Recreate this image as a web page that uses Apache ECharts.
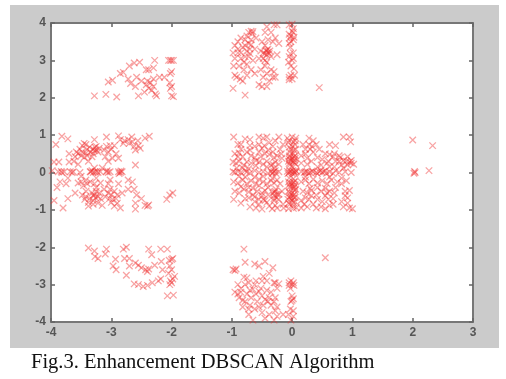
<!DOCTYPE html>
<html><head><meta charset="utf-8">
<style>html,body{margin:0;padding:0;background:#fff}#c{width:506px;height:379px;filter:blur(0.7px)}</style>
<script src="https://cdn.jsdelivr.net/npm/echarts@6/dist/echarts.min.js"></script>
</head><body><div id="c"></div>
<script>
const xTicks=[-4,-3,-2,-1,0,1,2,3];
const yTicks=[-4,-3,-2,-1,0,1,2,3,4];
const caption="Fig.3. Enhancement DBSCAN Algorithm";
const upperLeftArc=[[-3.28,2.05],[-3.09,2.09],[-2.91,2.02],[-3.05,2.42],[-2.98,2.47],[-2.85,2.65],[-2.8,2.68],[-2.72,2.5],[-2.68,2.38],[-2.7,2.85],[-2.58,2.55],[-2.5,2.45],[-2.6,2.3],[-2.62,2.93],[-2.53,2.95],[-2.42,2.75],[-2.38,2.75],[-2.3,2.8],[-2.28,3.0],[-2.42,2.35],[-2.38,2.25],[-2.35,2.4],[-2.45,2.15],[-2.55,2.05],[-2.33,2.2],[-2.27,2.1],[-2.25,2.05],[-2.3,2.5],[-2.2,2.55],[-2.12,2.55],[-2.4,2.45],[-2.05,3.0],[-2.02,3.0],[-2.0,3.0],[-1.97,3.0],[-2.0,2.7],[-2.02,2.65],[-2.03,2.4],[-2.0,2.3],[-2.02,2.25],[-2.0,2.05],[-1.97,2.03],[-2.3,2.3]];
const leftBlock=[[-3.82,0.97],[-3.72,0.9],[-3.92,0.75],[-3.95,0.28],[-3.87,0.28],[-3.98,0.05],[-3.88,0.02],[-3.82,0],[-3.78,0.02],[-3.68,0.02],[-3.63,0.02],[-3.7,0.28],[-3.62,0.3],[-3.7,0.5],[-3.58,0.55],[-3.52,0.62],[-3.48,0.72],[-3.45,0.78],[-3.42,0.75],[-3.5,0.45],[-3.45,0.4],[-3.42,0.52],[-3.38,0.3],[-3.35,0.55],[-3.3,0.62],[-3.28,0.58],[-3.25,0.6],[-3.28,0.88],[-3.2,0.65],[-3.32,0.42],[-3.28,0.12],[-3.52,0],[-3.5,-0.1],[-3.35,0.02],[-3.3,0],[-3.27,0.02],[-3.22,0],[-3.18,0.02],[-3.08,0.95],[-3.02,0.72],[-3.0,0.62],[-3.05,0.55],[-3.1,0.42],[-3.05,0.3],[-2.98,0.38],[-3.08,0.02],[-3.05,0],[-3.02,0.02],[-2.88,0.98],[-2.85,0.88],[-2.92,0.5],[-2.88,0.38],[-2.88,0.02],[-2.85,0],[-2.82,0.02],[-2.78,0.85],[-2.72,0.88],[-2.66,0.95],[-2.62,0.7],[-2.6,0.6],[-2.55,0.72],[-2.56,0.85],[-2.8,0.78],[-2.6,0.2],[-2.44,0.92],[-2.37,0.97],[-3.9,-0.4],[-3.8,-0.95],[-3.95,-0.75],[-3.72,-0.7],[-3.6,-0.55],[-3.85,-0.25],[-3.75,-0.3],[-3.55,-0.28],[-3.5,-0.25],[-3.48,-0.6],[-3.44,-0.72],[-3.42,-0.5],[-3.4,-0.3],[-3.35,-0.25],[-3.3,-0.75],[-3.28,-0.6],[-3.25,-0.5],[-3.2,-0.55],[-3.25,-0.4],[-3.18,-0.28],[-3.38,-0.8],[-3.3,-0.85],[-3.22,-0.82],[-3.15,-0.88],[-3.18,-0.7],[-3.1,-0.65],[-3.05,-0.3],[-3.02,-0.2],[-3.05,-0.55],[-3.03,-0.7],[-3.0,-0.8],[-2.95,-0.9],[-2.95,-0.5],[-2.9,-0.6],[-2.9,-0.82],[-2.88,-0.3],[-2.82,-0.55],[-2.85,-0.95],[-2.72,-0.2],[-2.65,-0.25],[-2.72,-0.45],[-2.62,-0.45],[-2.58,-0.6],[-2.6,-0.82],[-2.6,-0.98],[-2.44,-0.88],[-2.4,-0.9],[-2.38,-0.87],[-2.08,-0.72],[-2.03,-0.6],[-1.98,-0.55],[-2.5,-0.7]];
const leftBlockDense=[[-3.55,0.5],[-3.48,0.55],[-3.4,0.62],[-3.36,0.68],[-3.27,0.68],[-3.22,0.55],[-3.4,0.45],[-3.3,0.5],[-3.25,0.7],[-3.34,0.02],[-3.32,0.05],[-3.24,0.03],[-3.83,0.03],[-3.65,0],[-3.07,0.05],[-2.87,-0.03],[-2.84,0.04],[-3.42,-0.65],[-3.36,-0.7],[-3.3,-0.62],[-3.26,-0.68],[-3.22,-0.65],[-3.32,-0.55],[-3.46,-0.35],[-3.42,-0.2],[-3.28,-0.3],[-3.12,-0.45],[-3.02,-0.45],[-3.0,-0.6],[-2.98,-0.72],[-2.92,-0.7],[-3.38,-0.9],[-3.15,0.12],[-3.12,0.6],[-3.08,0.7],[-2.95,0.72],[-2.7,0.78],[-2.65,0.82],[-2.52,0.65],[-3.6,0.42],[-3.55,0.22],[-3.72,-0.15],[-3.25,-0.15]];
const centerBlock=[[-0.97,0.95],[-0.9,0.75],[-0.85,0.75],[-0.78,0.9],[-0.7,0.88],[-0.62,0.7],[-0.55,0.95],[-0.48,0.92],[-0.42,0.95],[-0.38,0.8],[-0.32,0.7],[-0.28,0.85],[-0.22,0.95],[-0.15,0.75],[-0.95,0.5],[-0.88,0.52],[-0.82,0.42],[-0.75,0.55],[-0.7,0.6],[-0.62,0.4],[-0.55,0.55],[-0.5,0.65],[-0.45,0.5],[-0.38,0.48],[-0.32,0.55],[-0.25,0.45],[-0.18,0.5],[-0.98,0.28],[-0.93,0.25],[-0.88,0.3],[-0.8,0.2],[-0.75,0.28],[-0.68,0.25],[-0.6,0.18],[-0.55,0.28],[-0.48,0.22],[-0.42,0.3],[-0.35,0.2],[-0.28,0.28],[-0.22,0.22],[-0.98,0.02],[-0.95,0],[-0.9,0.03],[-0.85,0],[-0.78,0.05],[-0.7,-0.02],[-0.62,0.05],[-0.55,0],[-0.48,0.02],[-0.4,-0.02],[-0.35,0.02],[-0.32,0],[-0.3,0.03],[-0.27,-0.02],[-0.22,0.02],[-0.97,-0.25],[-0.9,-0.28],[-0.82,-0.2],[-0.75,-0.3],[-0.68,-0.22],[-0.6,-0.3],[-0.55,-0.18],[-0.48,-0.25],[-0.42,-0.3],[-0.35,-0.22],[-0.3,-0.28],[-0.25,-0.2],[-0.2,-0.3],[-0.95,-0.5],[-0.88,-0.55],[-0.8,-0.45],[-0.72,-0.52],[-0.65,-0.6],[-0.58,-0.5],[-0.5,-0.55],[-0.45,-0.48],[-0.4,-0.6],[-0.32,-0.55],[-0.28,-0.5],[-0.22,-0.58],[-0.17,-0.5],[-0.97,-0.72],[-0.85,-0.82],[-0.78,-0.7],[-0.7,-0.92],[-0.62,-0.78],[-0.55,-0.72],[-0.48,-0.72],[-0.45,-0.75],[-0.38,-0.9],[-0.3,-0.75],[-0.28,-0.88],[-0.22,-0.72],[-0.15,-0.85],[-0.6,-0.95],[-0.5,-0.98],[-0.33,-0.97],[-0.25,-0.95],[-0.14,-0.95],
[-0.08,0.92],[0,0.95],[0.06,0.92],[-0.06,0.8],[0.02,0.82],[0.05,0.75],[-0.05,0.68],[0,0.7],[0.06,0.62],[-0.04,0.55],[0.02,0.5],[0.05,0.45],[-0.05,0.42],[0,0.38],[0.04,0.33],[-0.06,0.3],[0.02,0.28],[0.06,0.22],[-0.04,0.2],[0,0.17],[-0.08,0.03],[-0.05,0],[-0.02,0.03],[0,-0.02],[0.03,0.02],[0.05,0],[0.07,0.03],[-0.05,-0.15],[0.02,-0.17],[0.05,-0.22],[-0.06,-0.25],[0,-0.3],[0.05,-0.33],[-0.04,-0.38],[0.02,-0.42],[0.06,-0.45],[-0.06,-0.5],[0,-0.55],[0.04,-0.58],[-0.03,-0.63],[0.03,-0.68],[-0.07,-0.72],[0,-0.75],[0.05,-0.78],[-0.04,-0.85],[0.02,-0.9],[-0.06,-0.97],[0.02,-0.96],[0.07,-0.94],
[0.18,0.75],[0.28,0.92],[0.35,0.85],[0.4,0.75],[0.62,0.75],[0.72,0.72],[0.78,0.45],[0.85,0.95],[0.95,0.95],[0.97,0.82],[0.15,0.45],[0.22,0.5],[0.3,0.62],[0.35,0.55],[0.42,0.4],[0.5,0.35],[0.55,0.5],[0.6,0.3],[0.68,0.42],[0.72,0.3],[0.8,0.4],[0.85,0.32],[0.92,0.42],[0.98,0.25],[1.02,0.22],[0.95,0.28],[0.15,0.25],[0.25,0.22],[0.32,0.3],[0.48,0.2],[0.58,0.25],[0.7,0.15],[0.82,0.2],[0.15,0.02],[0.2,0],[0.25,0.02],[0.3,0],[0.35,0.02],[0.4,0],[0.45,0.02],[0.5,0],[0.55,0.05],[0.62,0.02],[0.68,-0.03],[0.72,0.05],[0.78,0],[0.88,0.02],[0.98,0],[0.15,-0.25],[0.22,-0.2],[0.28,-0.3],[0.35,-0.18],[0.42,-0.28],[0.5,-0.22],[0.58,-0.3],[0.65,-0.2],[0.75,-0.25],[0.82,-0.3],[0.9,-0.22],[0.18,-0.5],[0.25,-0.55],[0.32,-0.48],[0.4,-0.6],[0.48,-0.5],[0.55,-0.62],[0.62,-0.5],[0.7,-0.55],[0.88,-0.5],[0.95,-0.48],[0.15,-0.75],[0.22,-0.68],[0.28,-0.72],[0.35,-0.85],[0.42,-0.72],[0.5,-0.78],[0.6,-0.72],[0.68,-0.7],[0.82,-0.78],[0.92,-0.68],[0.15,-0.95],[0.25,-0.92],[0.4,-0.95],[0.48,-0.92],[0.55,-0.97],[0.62,-0.88],[0.85,-0.92],[0.95,-0.95],[1.0,-0.97]];
const centerBlockDense=[[-0.04,0.45],[0.03,0.42],[-0.05,0.36],[0.05,0.38],[-0.02,0.32],[-0.05,0.24],[0.04,0.26],[-0.07,-0.03],[-0.04,0.04],[0.01,0.05],[0.04,-0.03],[0.06,0.05],[-0.03,-0.28],[0.03,-0.26],[-0.05,-0.33],[0,-0.36],[0.04,-0.38],[0.04,-0.48],[-0.04,-0.55],[0.01,-0.62],[-0.05,-0.66],[0.05,-0.66],[-0.02,-0.7],[0.02,-0.8],[-0.06,-0.82],[-0.02,0.62],[0.03,0.6],[-0.05,0.85],[0.05,0.85],[0.22,0.02],[0.27,-0.02],[0.33,0.04],[0.42,-0.03],[0.47,0.05],[0.52,0.03],[0.57,-0.02],[-0.33,-0.03],[-0.28,0.05],[-0.3,-0.52],[-0.25,-0.58],[-0.27,-0.45],[-0.26,-0.68],[-0.3,-0.62],[-0.3,-0.7],[-0.32,0.22],[-0.3,0.12],[-0.33,-0.15],[-0.75,0.02],[-0.72,0.1],[-0.82,0.12],[-0.92,0.12],[-0.6,0.32],[-0.52,0.42],[-0.68,0.45],[-0.85,0.62],[-0.9,0.42],[-0.42,0.15],[-0.4,0.6],[-0.46,0.72],[-0.55,0.75],[-0.7,0.72],[-0.62,-0.12],[-0.78,-0.12],[-0.88,-0.1],[-0.48,-0.1],[-0.4,-0.4],[-0.55,-0.35],[-0.65,-0.42],[-0.72,-0.4],[-0.85,-0.38],[-0.5,-0.62],[-0.62,-0.65],[-0.72,-0.68],[-0.55,-0.85],[-0.42,-0.8],[-0.3,0.4],[-0.2,0.62],[-0.17,0.38],[0.22,0.62],[0.28,0.75],[0.33,0.7],[0.25,0.38],[0.45,0.62],[0.62,0.48],[0.7,0.5],[0.78,0.3],[0.9,0.3],[0.92,0.2],[0.98,0.32],[0.85,0.12],[0.62,0.15],[0.42,0.15],[0.62,-0.12],[0.22,-0.12],[0.82,-0.15],[0.3,-0.42],[0.42,-0.4],[0.55,-0.42],[0.72,-0.4],[0.88,-0.62],[0.32,-0.62],[0.2,-0.85],[0.68,-0.85],[0.58,-0.55],[0.92,-0.82]];
const upperMiddle=[[-0.98,2.25],[-0.78,2.07],[-0.97,2.85],[-0.88,2.85],[-0.92,2.55],[-0.86,2.5],[-0.82,2.45],[-0.75,2.6],[-0.95,3.05],[-0.98,3.2],[-0.9,3.2],[-0.85,3.05],[-0.8,2.95],[-0.75,2.9],[-0.72,3.1],[-0.68,2.75],[-0.65,3.0],[-0.62,2.65],[-0.95,3.4],[-0.9,3.5],[-0.82,3.35],[-0.75,3.25],[-0.7,3.3],[-0.85,3.6],[-0.78,3.55],[-0.72,3.45],[-0.68,3.55],[-0.72,3.75],[-0.68,3.78],[-0.65,3.77],[-0.62,3.3],[-0.6,3.6],[-0.55,3.05],[-0.55,2.35],[-0.5,2.3],[-0.48,2.55],[-0.52,2.75],[-0.45,2.85],[-0.42,2.65],[-0.45,3.0],[-0.42,3.15],[-0.48,3.2],[-0.43,3.25],[-0.4,3.22],[-0.37,3.25],[-0.35,3.1],[-0.45,3.4],[-0.4,3.55],[-0.45,3.75],[-0.42,3.9],[-0.32,3.5],[-0.28,3.6],[-0.3,3.95],[-0.25,3.95],[-0.25,3.15],[-0.35,2.75],[-0.32,2.55],[-0.28,2.55],[-0.38,2.45],[-0.42,2.3],[-0.22,3.45],[-0.3,2.7],[-0.05,3.95],[0,3.97],[-0.05,3.7],[0,3.78],[0.03,3.62],[-0.02,3.5],[-0.05,3.45],[0.02,3.2],[-0.03,3.18],[-0.06,2.95],[0,3.0],[0.03,2.78],[-0.02,2.6],[-0.05,2.55],[0.04,2.6],[-0.03,3.35],[0.02,3.85],[-0.05,2.48],[0,2.5]];
const upperMiddleDense=[[-0.9,3.3],[-0.85,3.2],[-0.78,3.1],[-0.7,3.18],[-0.78,3.4],[-0.68,3.42],[-0.75,3.65],[-0.66,3.72],[-0.8,2.75],[-0.95,2.6],[-0.42,3.28],[-0.45,3.18],[-0.38,3.18],[-0.4,3.3],[-0.48,3.05],[-0.42,2.95],[-0.5,3.5],[-0.35,3.75],[-0.52,3.25],[-0.02,3.65],[0.02,3.55],[-0.04,3.6],[0.02,3.75],[-0.02,2.85],[-0.05,3.1],[0.02,3.05]];
const lowerLeftArc=[[-3.38,-2.02],[-3.28,-2.1],[-3.27,-2.25],[-3.22,-2.3],[-3.08,-2.05],[-3.1,-2.18],[-2.93,-2.32],[-2.97,-2.5],[-2.92,-2.6],[-2.8,-2.05],[-2.75,-2.0],[-2.78,-2.3],[-2.7,-2.3],[-2.7,-2.5],[-2.75,-2.75],[-2.6,-2.42],[-2.55,-2.48],[-2.62,-2.98],[-2.55,-3.0],[-2.47,-3.05],[-2.4,-3.02],[-2.5,-2.55],[-2.43,-2.6],[-2.4,-2.65],[-2.38,-2.58],[-2.38,-2.05],[-2.33,-2.2],[-2.28,-2.48],[-2.22,-2.9],[-2.18,-2.85],[-2.32,-2.95],[-2.17,-2.38],[-2.15,-2.6],[-2.18,-2.05],[-2.07,-2.05],[-2.04,-2.35],[-2.0,-2.33],[-1.98,-2.3],[-2.03,-2.5],[-2.0,-2.6],[-2.05,-2.7],[-2.02,-2.9],[-2.0,-2.95],[-1.98,-2.85],[-2.03,-3.0],[-1.95,-2.78],[-2.07,-3.3],[-1.97,-3.28]];
const lowerMiddle=[[-0.8,-2.05],[-0.98,-2.6],[-0.95,-2.62],[-0.93,-2.58],[-0.78,-2.4],[-0.62,-2.45],[-0.55,-2.5],[-0.45,-2.38],[-0.32,-2.55],[-0.42,-2.9],[-0.5,-2.9],[-0.48,-2.78],[-0.38,-2.7],[-0.3,-2.95],[-0.9,-3.0],[-0.85,-3.1],[-0.95,-3.2],[-0.88,-3.35],[-0.8,-2.8],[-0.78,-3.0],[-0.75,-3.25],[-0.78,-3.45],[-0.7,-3.55],[-0.82,-3.6],[-0.7,-3.15],[-0.72,-2.95],[-0.62,-3.0],[-0.6,-3.25],[-0.58,-3.45],[-0.62,-3.65],[-0.72,-3.8],[-0.65,-3.95],[-0.52,-3.1],[-0.5,-3.3],[-0.48,-3.55],[-0.5,-3.75],[-0.45,-3.9],[-0.42,-3.15],[-0.38,-3.35],[-0.35,-3.55],[-0.38,-3.8],[-0.28,-3.35],[-0.25,-3.1],[-0.28,-2.95],[-0.22,-2.98],[-0.25,-3.6],[-0.3,-3.95],[-0.25,-3.85],[-0.15,-3.8],[-0.05,-2.95],[-0.02,-2.9],[0,-3.0],[0.03,-3.02],[-0.03,-3.1],[0,-3.3],[0.02,-3.38],[-0.02,-3.45],[-0.03,-3.65],[0.02,-3.7],[-0.06,-3.8],[-0.02,-3.95],[0.02,-3.85],[-0.85,-3.2],[-0.82,-3.42],[-0.68,-3.35],[-0.65,-3.12],[-0.55,-3.18],[-0.55,-3.6],[-0.72,-3.65],[-0.45,-3.4],[-0.35,-3.2],[-0.4,-3.45],[-0.3,-3.45],[-0.28,-3.7],[-0.6,-2.9],[-0.75,-2.82],[-0.9,-3.25],[-0.05,-3.02],[0.02,-2.95],[0,-3.42]];
const outliers=[[0.45,2.27],[0.55,-2.28],[2.0,0.87],[2.33,0.72],[2.03,0.03],[2.04,0],[2.02,-0.02],[2.27,0.05]];
const allPoints=[upperLeftArc,leftBlock,leftBlockDense,centerBlock,centerBlockDense,upperMiddle,upperMiddleDense,lowerLeftArc,lowerMiddle,outliers].flat();
const axisBase={splitLine:{show:false},interval:1,
  axisLine:{onZero:false,show:true,lineStyle:{color:'#777',width:2}},
  axisTick:{show:true,inside:true,length:4,lineStyle:{color:'#666',width:1.5}},
  axisLabel:{color:'#555',fontFamily:'Liberation Sans',fontSize:12,fontWeight:'bold',margin:5}};
const noLabel={axisLabel:{show:false}};
const xAx=p=>Object.assign({},axisBase,{type:'value',min:xTicks[0],max:xTicks[xTicks.length-1],position:p},p==='top'?noLabel:{});
const yAx=p=>Object.assign({},axisBase,{type:'value',min:yTicks[0],max:yTicks[yTicks.length-1],position:p},p==='right'?noLabel:{});
const chart=echarts.init(document.getElementById('c'),null,{renderer:'canvas'});
chart.setOption({
  animation:false,backgroundColor:'#fff',
  title:{text:caption,left:26,top:347,textStyle:{fontFamily:'Liberation Serif',fontSize:20.5,fontWeight:'normal',color:'#111'}},
  graphic:[{type:'rect',z:-10,silent:true,shape:{x:10,y:5,width:489,height:343},style:{fill:'#cbcbcb'}}],
  grid:{left:51,right:33,top:23,bottom:57,show:true,backgroundColor:'#fff',borderWidth:0},
  xAxis:[xAx('bottom'),xAx('top')],
  yAxis:[yAx('left'),yAx('right')],
  series:[{type:'scatter',data:allPoints,symbol:'path://M0 0L10 10M10 0L0 10',symbolSize:6.5,
    itemStyle:{color:'rgba(0,0,0,0)',borderColor:'rgba(238,45,45,0.55)',borderWidth:1.3},clip:false}]
});
</script></body></html>
